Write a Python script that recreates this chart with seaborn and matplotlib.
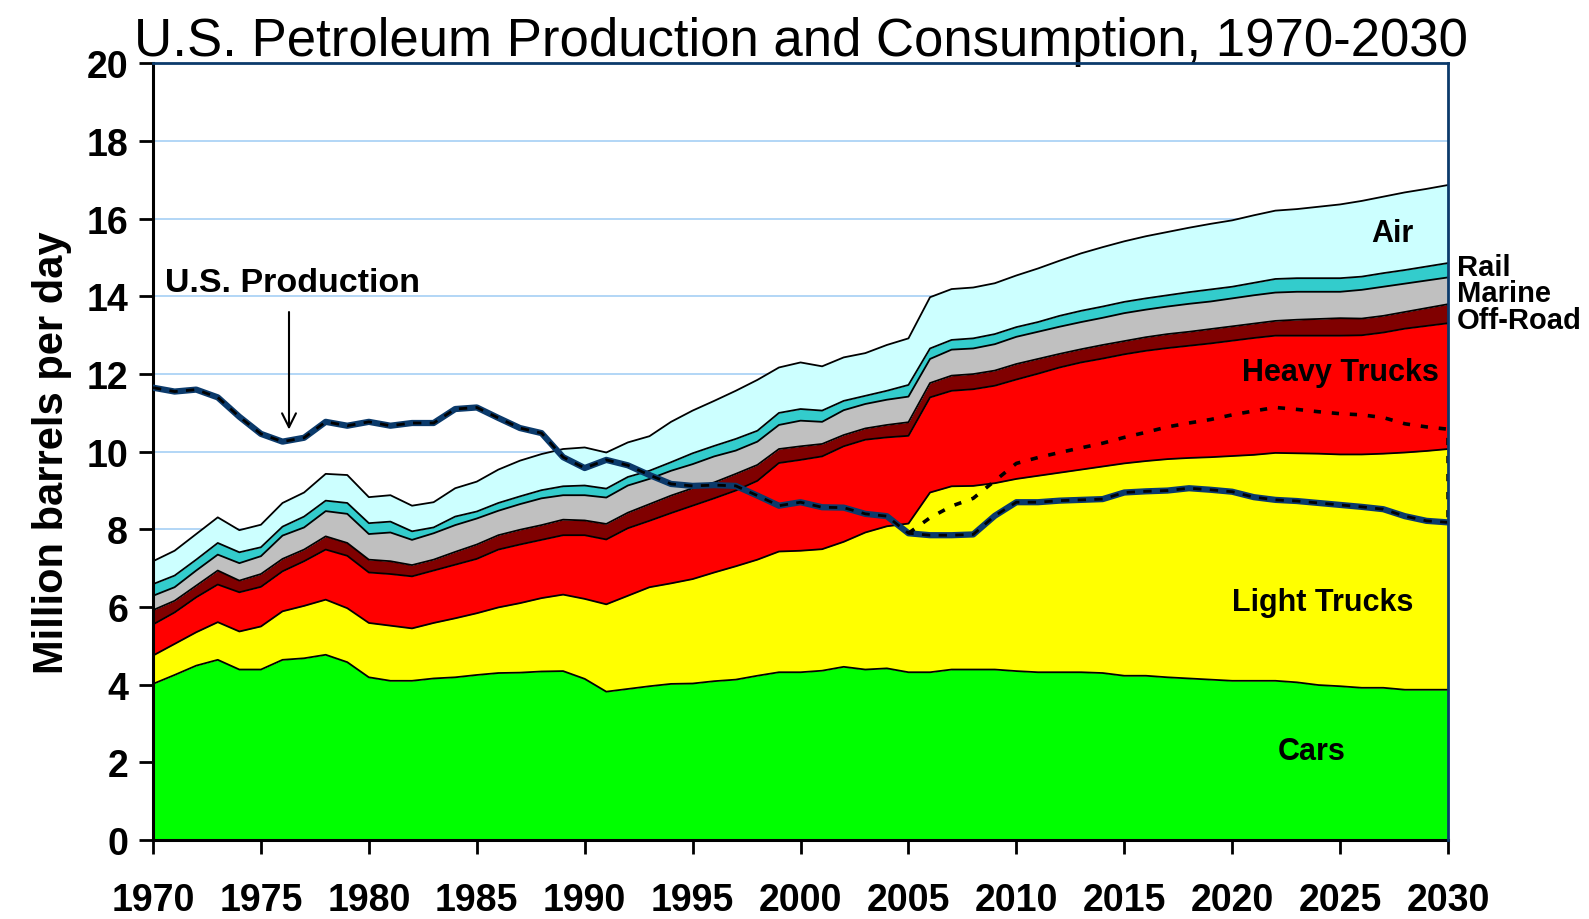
import numpy as np
import pandas as pd
import seaborn as sns
import matplotlib.pyplot as plt

sns.set_style("white")
plt.rcParams['font.family'] = ['Liberation Sans', 'DejaVu Sans']
plt.rcParams['text.color'] = 'black'
plt.rcParams['axes.labelcolor'] = 'black'
plt.rcParams['xtick.color'] = 'black'
plt.rcParams['ytick.color'] = 'black'

years = list(range(1970, 2031))

# cumulative top of each layer (million barrels per day)
cars = [4.02, 4.25, 4.49, 4.64, 4.39, 4.39, 4.64, 4.68, 4.77, 4.58,
        4.19, 4.10, 4.10, 4.16, 4.19, 4.25, 4.30, 4.31, 4.34, 4.35,
        4.15, 3.82, 3.89, 3.96, 4.02, 4.03, 4.09, 4.13, 4.23, 4.32,
        4.32, 4.36, 4.46, 4.39, 4.42, 4.32, 4.32, 4.39, 4.39, 4.39,
        4.35, 4.32, 4.32, 4.32, 4.30, 4.23, 4.23, 4.19, 4.16, 4.13,
        4.10, 4.10, 4.10, 4.06, 3.99, 3.96, 3.92, 3.92, 3.87, 3.87, 3.87]
light_trucks = [4.75, 5.05, 5.35, 5.61, 5.37, 5.50, 5.89, 6.03, 6.19, 5.97,
                5.59, 5.52, 5.45, 5.59, 5.71, 5.84, 5.99, 6.10, 6.23, 6.32,
                6.21, 6.07, 6.29, 6.51, 6.61, 6.72, 6.89, 7.05, 7.22, 7.43,
                7.45, 7.49, 7.68, 7.92, 8.08, 8.15, 8.95, 9.11, 9.12, 9.19,
                9.30, 9.38, 9.46, 9.54, 9.62, 9.70, 9.76, 9.81, 9.84, 9.86,
                9.89, 9.92, 9.97, 9.96, 9.95, 9.93, 9.93, 9.95, 9.98, 10.02, 10.07]
heavy_trucks = [5.55, 5.86, 6.25, 6.58, 6.38, 6.52, 6.92, 7.18, 7.48, 7.32,
                6.89, 6.85, 6.79, 6.94, 7.09, 7.24, 7.48, 7.61, 7.73, 7.85,
                7.85, 7.74, 8.03, 8.22, 8.42, 8.61, 8.80, 9.00, 9.25, 9.71,
                9.79, 9.88, 10.14, 10.31, 10.37, 10.41, 11.40, 11.57, 11.61, 11.70,
                11.86, 12.01, 12.17, 12.30, 12.40, 12.51, 12.60, 12.67, 12.73, 12.79,
                12.86, 12.93, 12.99, 12.99, 12.99, 12.99, 13.00, 13.07, 13.17, 13.24, 13.31]
off_road = [5.92, 6.16, 6.55, 6.94, 6.68, 6.85, 7.24, 7.48, 7.82, 7.65,
            7.22, 7.18, 7.08, 7.22, 7.42, 7.61, 7.85, 7.99, 8.11, 8.25,
            8.23, 8.14, 8.43, 8.65, 8.87, 9.06, 9.21, 9.43, 9.66, 10.07,
            10.14, 10.20, 10.43, 10.60, 10.69, 10.76, 11.77, 11.96, 12.00, 12.09,
            12.26, 12.39, 12.52, 12.64, 12.75, 12.85, 12.95, 13.03, 13.09, 13.16,
            13.23, 13.30, 13.37, 13.40, 13.42, 13.44, 13.43, 13.50, 13.60, 13.70, 13.80]
marine = [6.29, 6.51, 6.94, 7.35, 7.13, 7.31, 7.84, 8.05, 8.47, 8.40,
          7.88, 7.92, 7.73, 7.90, 8.11, 8.28, 8.48, 8.65, 8.80, 8.88,
          8.88, 8.82, 9.13, 9.30, 9.51, 9.68, 9.88, 10.03, 10.26, 10.69,
          10.80, 10.77, 11.07, 11.23, 11.34, 11.42, 12.39, 12.63, 12.66, 12.77,
          12.96, 13.09, 13.22, 13.34, 13.45, 13.57, 13.66, 13.74, 13.81, 13.87,
          13.95, 14.03, 14.10, 14.12, 14.12, 14.12, 14.17, 14.25, 14.33, 14.41, 14.49]
rail = [6.59, 6.81, 7.22, 7.65, 7.41, 7.54, 8.07, 8.33, 8.74, 8.68,
        8.16, 8.20, 7.95, 8.05, 8.33, 8.46, 8.68, 8.85, 9.01, 9.11,
        9.13, 9.05, 9.35, 9.51, 9.73, 9.96, 10.15, 10.33, 10.54, 11.00,
        11.10, 11.06, 11.31, 11.44, 11.57, 11.72, 12.66, 12.88, 12.92, 13.03,
        13.21, 13.34, 13.50, 13.63, 13.74, 13.86, 13.95, 14.03, 14.11, 14.18,
        14.25, 14.35, 14.45, 14.47, 14.47, 14.47, 14.51, 14.60, 14.68, 14.77, 14.86]
air = [7.18, 7.45, 7.88, 8.31, 7.98, 8.12, 8.68, 8.95, 9.43, 9.40,
       8.83, 8.88, 8.61, 8.70, 9.06, 9.23, 9.54, 9.77, 9.94, 10.07,
       10.11, 9.98, 10.24, 10.40, 10.77, 11.06, 11.31, 11.57, 11.85, 12.17,
       12.30, 12.20, 12.43, 12.54, 12.75, 12.92, 13.98, 14.19, 14.23, 14.34,
       14.54, 14.72, 14.92, 15.11, 15.27, 15.42, 15.55, 15.66, 15.77, 15.87,
       15.96, 16.09, 16.21, 16.25, 16.31, 16.37, 16.46, 16.57, 16.68, 16.77, 16.87]

production = [11.65, 11.55, 11.60, 11.40, 10.90, 10.46, 10.26, 10.36, 10.77, 10.67,
              10.77, 10.67, 10.74, 10.74, 11.10, 11.14, 10.87, 10.61, 10.48, 9.86,
              9.58, 9.79, 9.65, 9.40, 9.17, 9.12, 9.14, 9.12, 8.87, 8.61,
              8.70, 8.57, 8.56, 8.40, 8.34, 7.90, 7.85, 7.85, 7.87, 8.35,
              8.70, 8.70, 8.74, 8.76, 8.78, 8.95, 8.98, 9.00, 9.06, 9.02,
              8.97, 8.83, 8.76, 8.73, 8.68, 8.63, 8.58, 8.52, 8.34, 8.22, 8.18]

# dotted projection line, 2005-2030, closing back down to production in 2030
dotted_years = list(range(2005, 2031)) + [2030]
dotted_vals = [7.90, 8.30, 8.60, 8.80, 9.25, 9.70, 9.85, 9.98, 10.10, 10.22,
               10.37, 10.50, 10.64, 10.74, 10.83, 10.95, 11.05, 11.14, 11.09, 11.03,
               10.98, 10.95, 10.88, 10.72, 10.64, 10.58, 8.18]

layers = ['Cars', 'Light Trucks', 'Heavy Trucks', 'Off-Road', 'Marine', 'Rail', 'Air']
colors = ['#00FF00', '#FFFF00', '#FF0000', '#800000', '#C0C0C0', '#33CCCC', '#CCFFFF']

df = pd.DataFrame({'year': years, 'Cars': cars, 'Light Trucks': light_trucks,
                   'Heavy Trucks': heavy_trucks, 'Off-Road': off_road,
                   'Marine': marine, 'Rail': rail, 'Air': air,
                   'production': production})
dotted = pd.DataFrame({'year': dotted_years, 'val': dotted_vals})

fig = plt.figure(figsize=(15.89, 9.2), dpi=100)
ax = fig.add_axes([0.0963, 0.0859, 0.815, 0.844])

lower = np.zeros(len(years))
for name, col in zip(layers, colors):
    ax.fill_between(df['year'], lower, df[name], color=col, lw=0, zorder=2)
    ax.plot(df['year'], df[name], color='black', lw=1.3, zorder=3)
    lower = df[name].values

# production line: navy with black dashes on top
sns.lineplot(data=df, x='year', y='production', color='#0B3A6B', lw=4.5, ax=ax, zorder=5)
sns.lineplot(data=df, x='year', y='production', color='black', lw=2,
             dashes=False, ax=ax, zorder=6, linestyle=(0, (3, 3)))
ax.plot(dotted['year'], dotted['val'], color='black', lw=2.6, ls=(0, (2, 3)), zorder=6)

ax.set_xlim(1970, 2030)
ax.set_ylim(0, 20)
ax.set_xticks(range(1970, 2031, 5))
ax.set_yticks(range(0, 21, 2))
ax.yaxis.grid(True, color='#A6D0F5', lw=1.2)
ax.set_axisbelow(True)
ax.set_xlabel('')
ax.set_ylabel('Million barrels per day', fontsize=30, fontweight='bold', labelpad=10)
ax.tick_params(axis='x', direction='out', length=10, width=2, pad=20,
               labelsize=27, bottom=True)
ax.tick_params(axis='y', direction='out', length=10, width=2, pad=8,
               labelsize=27, left=True)
for lab in ax.get_xticklabels() + ax.get_yticklabels():
    lab.set_fontweight('bold')

for side in ['left', 'bottom']:
    ax.spines[side].set_color('black')
    ax.spines[side].set_linewidth(2.2)
for side in ['top', 'right']:
    ax.spines[side].set_color('#0B3A6B')
    ax.spines[side].set_linewidth(2)
    ax.spines[side].set_zorder(7)

ax.set_title('U.S. Petroleum Production and Consumption, 1970-2030',
             fontsize=38, pad=6)

lab_kw = dict(fontsize=22, fontweight='bold', zorder=8)
side_kw = dict(fontsize=21, fontweight='bold', zorder=8)
ax.text(2027.4, 15.63, 'Air', ha='center', va='center', **lab_kw)
ax.text(2025.0, 12.05, 'Heavy Trucks', ha='center', va='center', **lab_kw)
ax.text(2024.2, 6.13, 'Light Trucks', ha='center', va='center', **lab_kw)
ax.text(2023.7, 2.29, 'Cars', ha='center', va='center', **lab_kw)
ax.text(2030.4, 14.77, 'Rail', ha='left', va='center', clip_on=False, **side_kw)
ax.text(2030.4, 14.09, 'Marine', ha='left', va='center', clip_on=False, **side_kw)
ax.text(2030.4, 13.39, 'Off-Road', ha='left', va='center', clip_on=False, **side_kw)

ax.annotate('', xy=(1976.3, 10.5), xytext=(1976.3, 13.67),
            arrowprops=dict(arrowstyle='->', color='black', lw=1.5,
                            mutation_scale=25), zorder=8)
ax.text(1970.55, 14.37, 'U.S. Production', ha='left', va='center',
        fontsize=24.5, fontweight='bold', zorder=8)

fig.savefig('out.png', dpi=100)
